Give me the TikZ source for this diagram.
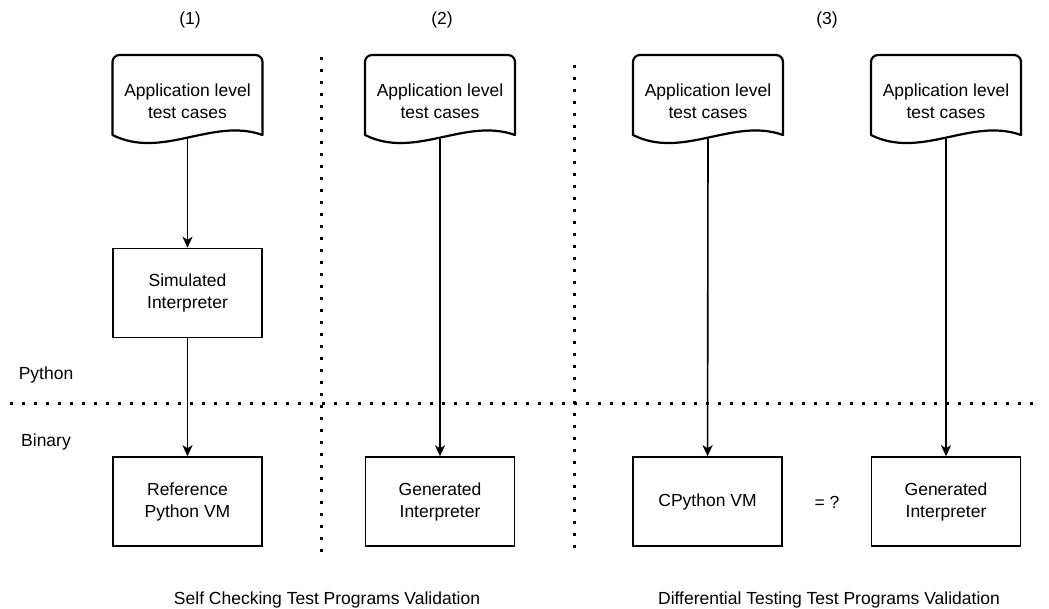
\documentclass[tikz,border=0pt]{standalone}
\usepackage{fontspec}
\setmainfont{Liberation Sans}
\usetikzlibrary{arrows.meta}
\tikzset{
  boxnode/.style={draw, line width=1.5pt, minimum width=149pt, minimum height=89pt, align=center, inner sep=0pt},
  doctext/.style={align=center, inner sep=0pt},
  docline/.style={line width=2.2pt, line join=round},
  arr/.style={line width=1.6pt, -{Stealth[length=11pt,width=10pt,inset=3pt]}},
  dotline/.style={line width=3pt, dash pattern=on 3pt off 9pt},
  lbl/.style={inner sep=0pt}
}
\newcommand\docshape[1]{% left x
  \draw[docline] (#1,135) [rounded corners=7pt] -- (#1,55) -- (#1+150,55) [sharp corners] -- (#1+150,135)
    .. controls (#1+100,117) and (#1+50,160) .. cycle;
}
\begin{document}
\begin{tikzpicture}[x=1pt,y=-1pt,font=\fontsize{17.5}{22}\selectfont]
\useasboundingbox (0,0) rectangle (1049,608);
\fill[white] (0,0) rectangle (1049,608);

% dotted separators
\draw[dotline] (10,403) -- (1040,403);
\draw[dotline] (321,57) -- (321,552);
\draw[dotline] (574,65) -- (574,555);

% documents
\docshape{112.5}
\docshape{365}
\docshape{633}
\docshape{871}
\node[doctext] (doc1) at (187.5,101) {Application level\\test cases};
\node[doctext] (doc2) at (440,101) {Application level\\test cases};
\node[doctext] (doc3) at (708,101) {Application level\\test cases};
\node[doctext] (doc4) at (946,101) {Application level\\test cases};
\coordinate (doc1b) at (187.5,139);
\coordinate (doc2b) at (440,139);
\coordinate (doc3b) at (708,139);
\coordinate (doc4b) at (946,139);

% boxes
\node[boxnode] (sim) at (187.5,293) {Simulated\\Interpreter};
\node[boxnode] (ref) at (187.5,501.5) {Reference\\Python VM};
\node[boxnode] (gen1) at (440,501.5) {Generated\\Interpreter};
\node[boxnode] (cpy) at (707.5,501.5) {CPython VM};
\node[boxnode] (gen2) at (946,501.5) {Generated\\Interpreter};

% arrows
\draw[arr] (doc1b) -- (sim);
\draw[arr] (sim) -- (ref);
\draw[arr] (doc2b) -- (gen1);
\draw[arr] (doc3b) -- (cpy);
\draw[arr] (doc4b) -- (gen2);

% labels
\node[lbl] (l1) at (190,20) {(1)};
\node[lbl] (l2) at (442,20) {(2)};
\node[lbl] (l3) at (827,20) {(3)};
\node[lbl] (py) at (46,375) {Python};
\node[lbl] (bin) at (46,442) {Binary};
\node[lbl] (eq) at (827,502) {= ?};
\node[lbl] (s1) at (327,600) {Self Checking Test Programs Validation};
\node[lbl] (s2) at (829,600) {Differential Testing Test Programs Validation};
\end{tikzpicture}
\end{document}
